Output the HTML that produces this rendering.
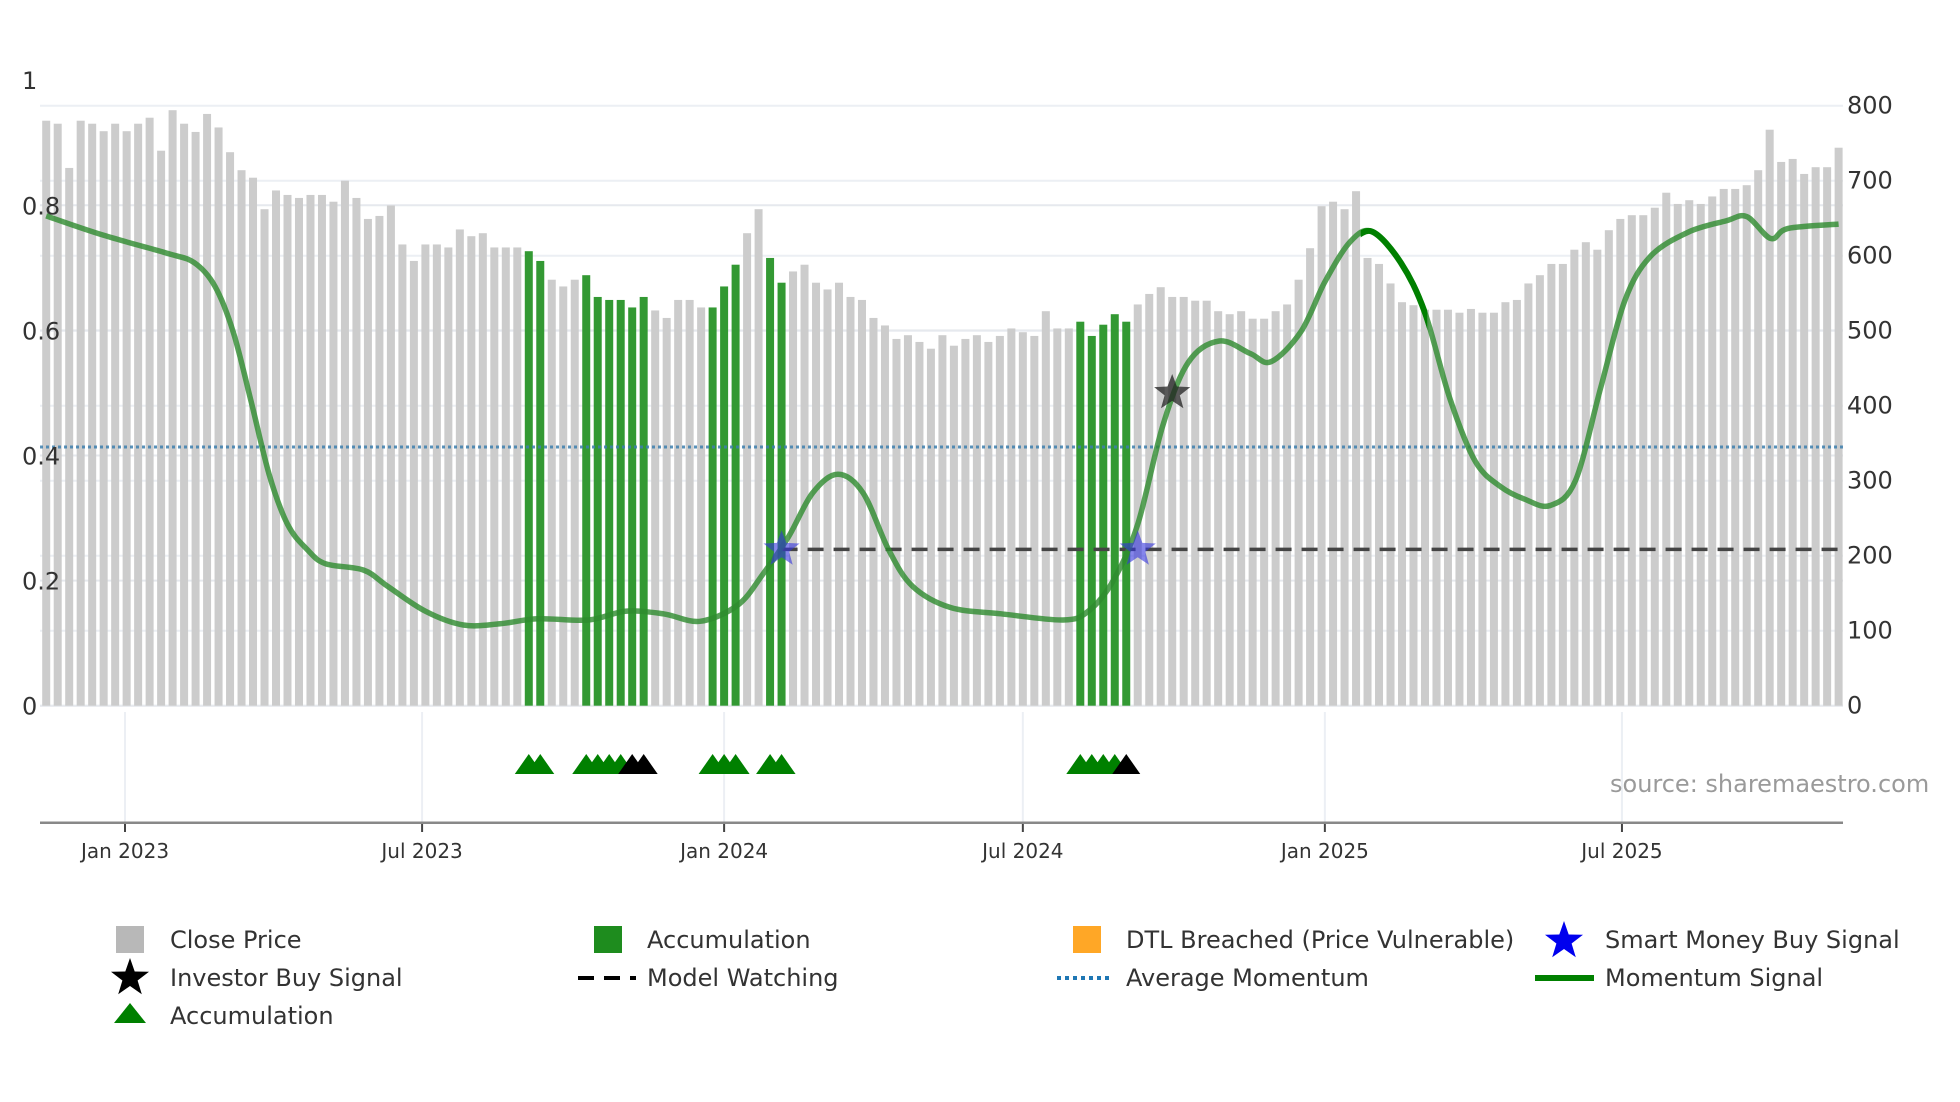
<!DOCTYPE html>
<html><head><meta charset="utf-8">
<style>
html,body{margin:0;padding:0;background:#fff;}
svg{display:block;font-family:"DejaVu Sans","Liberation Sans",sans-serif;}
</style></head>
<body>
<svg id="chart" width="1960" height="1102" viewBox="0 0 1960 1102" xmlns="http://www.w3.org/2000/svg">
  <g id="grid"></g>
  <g id="bars"></g>
  <g id="lines"></g>
  <g id="markers"></g>
  <g id="axes"></g>
  <text x="1610" y="792" font-size="24" fill="#9a9a9a">source: sharemaestro.com</text>
  <g id="legend">
    <rect x="116" y="926" width="28" height="27" fill="#b8b8b8"/>
    <text x="170" y="948" font-size="24" fill="#333">Close Price</text>
    <polygon points="130,958 134.7,971.5 149,971.8 137.6,980.5 141.8,994.2 130,986 118.2,994.2 122.4,980.5 111,971.8 125.3,971.5" fill="#000"/>
    <text x="170" y="986" font-size="24" fill="#333">Investor Buy Signal</text>
    <polygon points="130,1003 146,1023 114,1023" fill="#008000"/>
    <text x="170" y="1024" font-size="24" fill="#333">Accumulation</text>

    <rect x="594" y="926" width="28" height="27" fill="#1e8c1e"/>
    <text x="647" y="948" font-size="24" fill="#333">Accumulation</text>
    <line x1="578" y1="978" x2="636" y2="978" stroke="#000" stroke-width="4" stroke-dasharray="16,10"/>
    <text x="647" y="986" font-size="24" fill="#333">Model Watching</text>

    <rect x="1073" y="926" width="28" height="27" fill="#ffa726"/>
    <text x="1126" y="948" font-size="24" fill="#333">DTL Breached (Price Vulnerable)</text>
    <line x1="1057" y1="978" x2="1113" y2="978" stroke="#1f77b4" stroke-width="4" stroke-dasharray="4,4"/>
    <text x="1126" y="986" font-size="24" fill="#333">Average Momentum</text>

    <polygon points="1564,921 1568.7,934.5 1583,934.8 1571.6,943.5 1575.8,957.2 1564,949 1552.2,957.2 1556.4,943.5 1545,934.8 1559.3,934.5" fill="#0000ee"/>
    <text x="1605" y="948" font-size="24" fill="#333">Smart Money Buy Signal</text>
    <line x1="1535" y1="978" x2="1594" y2="978" stroke="#008000" stroke-width="6"/>
    <text x="1605" y="986" font-size="24" fill="#333">Momentum Signal</text>
  </g>
</svg>
<script>
// ---- data ----
const startDate = "2022-11-14"; // first weekly bar
const closePrices = [
780,776,717,780,776,766,776,766,776,784,740,794,776,765,789,771,738,714,704,662,687,681,677,681,681,672,700,677,649,653,667,615,593,615,615,611,635,626,630,611,611,611,
606,593,568,559,568,574,545,541,541,531,545,527,517,541,541,531,531,559,588,630,662,597,564,579,588,564,555,564,545,541,517,507,489,494,485,476,494,480,489,494,485,
493,503,498,493,526,503,503,512,493,508,522,512,535,549,558,545,545,540,540,526,522,526,516,516,526,535,568,610,666,672,662,686,597,589,563,538,534,528,528,528,524,
529,524,524,538,541,563,574,589,589,608,618,608,634,649,654,654,664,684,669,674,669,679,689,689,694,714,768,725,729,709,718,718,744];
const accumulationBars = [42,43,47,48,49,50,51,52,58,59,60,63,64,90,91,92,93,94];
const accumTrianglesGreen = [42,43,47,48,49,50,58,59,60,63,64,90,91,92,93];
const accumTrianglesBlack = [51,52,94];
const momentumIdx = [0,5,10.6,12.9,14.7,16.3,17.8,19.4,21,22.7,24.3,27.6,29.7,33,36.3,39.5,42.8,47.2,50.4,53.7,56.9,60.2,62.4,64.6,66.7,68.9,71.1,73.3,75.4,78.7,83.1,88.5,90.7,92.9,95,97.2,99.4,102.1,104.8,106.6,109.2,111.3,113.5,115.4,117.9,120,122.2,124.4,126.6,128.7,130.9,133.1,135.3,137.4,139.6,142.9,146.2,148,150.1,151.6,156];
const momentumVal = [.783,.752,.723,.708,.670,.596,.489,.370,.29,.25,.227,.217,.191,.151,.129,.131,.139,.137,.151,.147,.135,.161,.211,.27,.34,.37,.34,.25,.191,.157,.147,.137,.151,.201,.29,.449,.549,.583,.563,.550,.598,.678,.742,.758,.708,.628,.489,.39,.35,.33,.32,.36,.509,.648,.718,.757,.775,.782,.747,.763,.770];
const highlightFrom = 114.4, highlightTo = 120.2;
const averageMomentum = 0.4135;
const modelWatchingLevel = 0.25;
const modelWatchingStart = 64;
const smartMoneyIdx = [64,95];
const smartMoneyVal = [0.25,0.25];
const investorIdx = [98];
const investorVal = [0.5];
const leftTicks = [0,0.2,0.4,0.6,0.8,1];
const leftTickLabels = ["0","0.2","0.4","0.6","0.8","1"];
const rightTicks = [0,100,200,300,400,500,600,700,800];
const xTickDates = ["2023-01-01","2023-07-01","2024-01-01","2024-07-01","2025-01-01","2025-07-01"];
const xTickLabels = ["Jan 2023","Jul 2023","Jan 2024","Jul 2024","Jan 2025","Jul 2025"];

// ---- scales ----
const NS="http://www.w3.org/2000/svg";
const plotL=40, plotR=1843, y0=705.7;
const pxPerDay=1.6414, jan23=125;
const DAY=86400000;
function xDate(s){return jan23+(Date.parse(s)-Date.parse("2023-01-01"))/DAY*pxPerDay;}
const x0=xDate(startDate);
function xIdx(i){return x0+i*7*pxPerDay;}
function yPrice(v){return y0-v*0.75;}
function yMom(m){return y0-m*625.5;}
function mk(tag,attrs,parent){const e=document.createElementNS(NS,tag);for(const k in attrs)e.setAttribute(k,attrs[k]);parent.appendChild(e);return e;}
function star(cx,cy,R){const r=R*0.42;let p=[];for(let k=0;k<10;k++){const a=-Math.PI/2+k*Math.PI/5;const rr=k%2?r:R;p.push((cx+rr*Math.cos(a)).toFixed(1)+","+(cy+rr*Math.sin(a)).toFixed(1));}return p.join(" ");}

const grid=document.getElementById('grid'),bars=document.getElementById('bars'),lines=document.getElementById('lines'),markers=document.getElementById('markers'),axes=document.getElementById('axes');

// grid
rightTicks.forEach(function(t){
  const g=mk('line',{x1:plotL,x2:plotR,y1:yPrice(t),y2:yPrice(t),stroke:'#eceff4','stroke-width':2},grid);
  
  
  const lb=mk('text',{x:1847,y:yPrice(t)+8,'font-size':24,fill:'#333'},axes);
  lb.textContent=String(t);
  
  
});
leftTicks.forEach(function(t,k){
  if(t<1){
    const g=mk('line',{x1:plotL,x2:plotR,y1:yMom(t),y2:yMom(t),stroke:'#e6e9ee','stroke-width':2},grid);
    
    
  }
  const lb=mk('text',{x:22,y:yMom(t)+9,'font-size':24,fill:'#333'},axes);
  lb.textContent=leftTickLabels[k];
  
  
});
xTickDates.forEach(function(d,k){
  const x=xDate(d);
  const g=mk('line',{x1:x,x2:x,y1:712,y2:822,stroke:'#eceff4','stroke-width':2},grid);
  
  
  const t=mk('line',{x1:x,x2:x,y1:823,y2:832,stroke:'#444','stroke-width':2},axes);
  
  
  const lb=mk('text',{x:x,y:858,'font-size':20,fill:'#333','text-anchor':'middle'},axes);
  lb.textContent=xTickLabels[k];
  
  
});
const ax=mk('line',{x1:plotL,x2:plotR,y1:822.7,y2:822.7,stroke:'#888','stroke-width':2.5},axes);



// bars
closePrices.forEach(function(v,i){
  const acc=accumulationBars.indexOf(i)>=0;
  const r=mk('rect',{x:xIdx(i)-4,y:yPrice(v),width:8,height:y0-yPrice(v),fill:acc?'#339933':'#cccccc'},bars);
  
  
});

// average momentum
const am=mk('line',{x1:plotL,x2:plotR,y1:yMom(averageMomentum),y2:yMom(averageMomentum),stroke:'#3d7fae','stroke-width':3,'stroke-dasharray':'3,3',opacity:0.85},lines);


// model watching
const mw=mk('line',{x1:xIdx(modelWatchingStart),x2:plotR,y1:yMom(modelWatchingLevel),y2:yMom(modelWatchingLevel),stroke:'#444','stroke-width':3.5,'stroke-dasharray':'16,10'},lines);



// momentum line (smooth via catmull-rom)
function pathFor(idx,val){
  const P=idx.map(function(i,k){return [xIdx(i),yMom(val[k])];});
  let d='M'+P[0][0].toFixed(1)+','+P[0][1].toFixed(1);
  for(let k=0;k<P.length-1;k++){
    const p0=P[Math.max(0,k-1)],p1=P[k],p2=P[k+1],p3=P[Math.min(P.length-1,k+2)];
    const c1=[p1[0]+(p2[0]-p0[0])/6,p1[1]+(p2[1]-p0[1])/6];
    const c2=[p2[0]-(p3[0]-p1[0])/6,p2[1]-(p3[1]-p1[1])/6];
    d+=' C'+c1[0].toFixed(1)+','+c1[1].toFixed(1)+' '+c2[0].toFixed(1)+','+c2[1].toFixed(1)+' '+p2[0].toFixed(1)+','+p2[1].toFixed(1);
  }
  return d;
}
const ml=mk('path',{d:pathFor(momentumIdx,momentumVal),fill:'none',stroke:'#2e8b2e','stroke-width':5.5,opacity:0.8,'stroke-linejoin':'round'},lines);


// highlighted segment
const hi=[],hv=[];
momentumIdx.forEach(function(i,k){if(i>=highlightFrom-2&&i<=highlightTo+2){hi.push(i);hv.push(momentumVal[k]);}});
const hs=mk('path',{d:pathFor(hi,hv),fill:'none',stroke:'#008000','stroke-width':6},lines);


const cp=mk('clipPath',{id:'hiclip'},lines);
mk('rect',{x:xIdx(highlightFrom),y:0,width:xIdx(highlightTo)-xIdx(highlightFrom),height:720},cp);
hs.setAttribute('clip-path','url(#hiclip)');

// stars
smartMoneyIdx.forEach(function(i,k){
  const s=mk('polygon',{points:star(xIdx(i),yMom(smartMoneyVal[k]),19),fill:'#3333dd',opacity:0.6},markers);
  
  
});
investorIdx.forEach(function(i,k){
  const s=mk('polygon',{points:star(xIdx(i),yMom(investorVal[k]),19),fill:'#222',opacity:0.75},markers);
  
  
});
// triangles
function tri(i,color,name){
  const x=xIdx(i),yb=774,yt=754;
  const t=mk('polygon',{points:x+','+yt+' '+(x+14)+','+yb+' '+(x-14)+','+yb,fill:color},markers);
  
  
}
accumTrianglesGreen.forEach(function(i){tri(i,'#008000','accumulation-triangle');});
accumTrianglesBlack.forEach(function(i){tri(i,'#000000','accumulation-triangle-black');});
</script>
</body></html>
